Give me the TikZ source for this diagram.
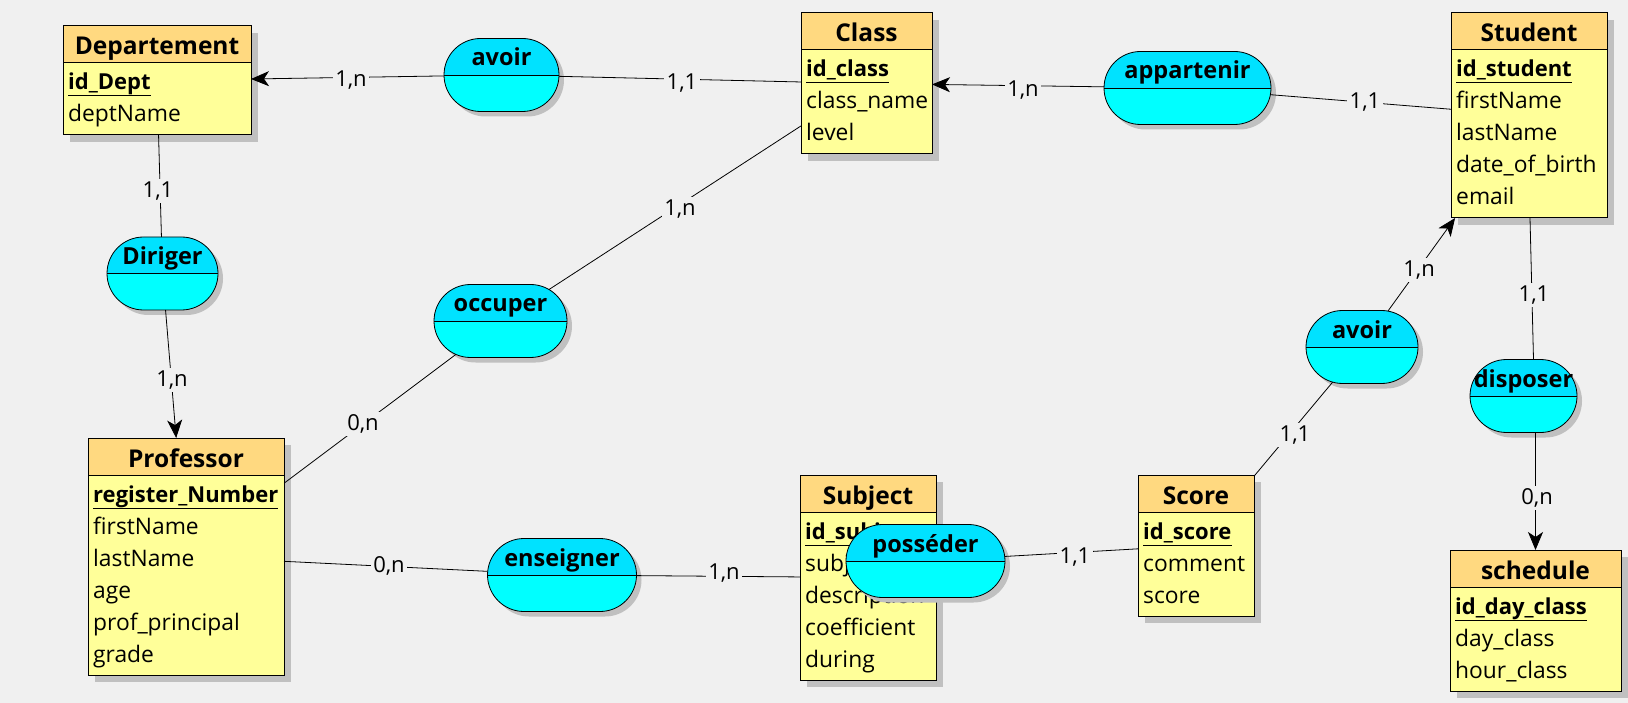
\documentclass[tikz,border=0pt]{standalone}
\usepackage{fontspec}
\setmainfont{Open Sans}
\usetikzlibrary{shapes.misc,arrows.meta,calc}
\definecolor{bg}{RGB}{240,240,240}
\definecolor{hdr}{RGB}{255,217,128}
\definecolor{bodyc}{RGB}{255,255,153}
\definecolor{shd}{RGB}{192,192,192}
\definecolor{cyanA}{RGB}{0,226,255}
\definecolor{cyanB}{RGB}{0,255,255}
\tikzset{
 conn/.style={draw=black, line width=0.8pt},
 arr/.style={conn, -{Stealth[length=18pt,width=15pt,inset=5pt]}},
 entbox/.style={rectangle, draw=none, fill=bodyc, inner sep=0pt, outer sep=0pt},
 entline/.style={draw=black, line width=1pt},
 titletext/.style={font=\fontsize{24.5}{28}\selectfont\bfseries, inner sep=0pt, anchor=base},
 attrtext/.style={font=\fontsize{22.8}{26}\selectfont, inner sep=0pt, anchor=base west},
 pktext/.style={font=\fontsize{22}{26}\selectfont\bfseries, inner sep=0pt, anchor=base west},
 assocshape/.style={rounded rectangle, draw=black, line width=0.8pt, fill=cyanB,
   minimum height=73pt, inner sep=0pt, outer sep=0pt,
   path picture={\fill[cyanA] (path picture bounding box.north west) rectangle (path picture bounding box.east);}},
 assocshadow/.style={rounded rectangle, draw=none, fill=shd, minimum height=73pt, inner sep=0pt, outer sep=0pt},
 assoctext/.style={font=\fontsize{23.5}{28}\selectfont\bfseries, inner sep=0pt, anchor=base},
 card/.style={font=\fontsize{22}{26}\selectfont, fill=bg, inner sep=2.5pt},
}
% #1 name, #2 left, #3 top, #4 width, #5 rows, #6 title
\newcommand\mkent[6]{%
 \pgfmathsetmacro\entH{45+32*#5}%
 \fill[shd] (#2+7,#3+7) rectangle ++(#4,\entH);
 \node[entbox, minimum width=#4pt, minimum height=\entH pt, anchor=north west] (#1) at (#2,#3) {};
 \fill[hdr] (#1.north west) rectangle ($(#1.north east)+(0,37)$);
 \draw[entline] ($(#1.north west)+(0,37)$) -- ($(#1.north east)+(0,37)$);
 \draw[entline] (#1.north west) rectangle (#1.south east);
 \node[titletext] (#1t) at ($(#1.north)+(0,29)$) {#6};
}
\newcommand\mkpk[3]{%
 \node[pktext] (#2) at ($(#1.north west)+(5,64)$) {#3};
 \draw[line width=1pt] ([yshift=-6pt]#2.base west) -- ([yshift=-6pt]#2.base east);
}
\newcommand\mkattr[4]{%
 \node[attrtext] (#2) at ($(#1.north west)+(5,64+32*#3)$) {#4};
}
% #1 name, #2 cx, #3 cy, #4 width, #5 text
\newcommand\mkassoc[5]{%
 \node[assocshadow, minimum width=#4pt] (#1s) at (#2+5,#3+5) {};
 \node[assocshape, minimum width=#4pt] (#1) at (#2,#3) {};
 \draw[conn] (#1.west) -- (#1.east);
 \node[assoctext] (#1t) at ($(#1.center)+(0,-9)$) {#5};
}
\begin{document}
\begin{tikzpicture}[x=1pt,y=-1pt]
\fill[bg] (0,0) rectangle (1628,703);
\useasboundingbox (0,0) rectangle (1628,703);

% entities
\mkent{dept}{63}{26}{188}{2}{Departement}
\mkpk{dept}{dept0}{id\_Dept}
\mkattr{dept}{dept1}{1}{deptName}

\mkent{cls}{801}{13}{131}{3}{Class}
\mkpk{cls}{cls0}{id\_class}
\mkattr{cls}{cls1}{1}{class\_name}
\mkattr{cls}{cls2}{2}{level}

\mkent{stu}{1451}{13}{156}{5}{Student}
\mkpk{stu}{stu0}{id\_student}
\mkattr{stu}{stu1}{1}{firstName}
\mkattr{stu}{stu2}{2}{lastName}
\mkattr{stu}{stu3}{3}{date\_of\_birth}
\mkattr{stu}{stu4}{4}{email}

\mkent{prof}{88}{438}{196}{6}{Professor}
\mkpk{prof}{prof0}{register\_Number}
\mkattr{prof}{prof1}{1}{firstName}
\mkattr{prof}{prof2}{2}{lastName}
\mkattr{prof}{prof3}{3}{age}
\mkattr{prof}{prof4}{4}{prof\_principal}
\mkattr{prof}{prof5}{5}{grade}

\mkent{subj}{800}{475}{136}{5}{Subject}
\mkpk{subj}{subj0}{id\_subject}
\mkattr{subj}{subj1}{1}{subject\_name}
\mkattr{subj}{subj2}{2}{description}
\mkattr{subj}{subj3}{3}{coefficient}
\mkattr{subj}{subj4}{4}{during}

\mkent{score}{1138}{475}{116}{3}{Score}
\mkpk{score}{score0}{id\_score}
\mkattr{score}{score1}{1}{comment}
\mkattr{score}{score2}{2}{score}

\mkent{sched}{1450}{550}{171}{3}{schedule}
\mkpk{sched}{sched0}{id\_day\_class}
\mkattr{sched}{sched1}{1}{day\_class}
\mkattr{sched}{sched2}{2}{hour\_class}

% associations
\mkassoc{avl}{501.5}{75}{115}{avoir}
\mkassoc{dir}{162.5}{273.5}{111}{Diriger}
\mkassoc{occ}{500.5}{321}{133}{occuper}
\mkassoc{ens}{562}{575}{149}{enseigner}
\mkassoc{pos}{925.5}{561}{159}{posséder}
\mkassoc{app}{1187.5}{88}{167}{appartenir}
\mkassoc{avr}{1362}{347}{112}{avoir}
\mkassoc{dis}{1523.5}{396}{107}{disposer}

% connectors
\draw[arr] (avl) -- (dept);
\draw[conn] (avl) -- (cls);
\draw[arr] (app) -- (cls);
\draw[conn] (app) -- (stu);
\draw[conn] (dept) -- (dir);
\draw[arr] (dir) -- (prof);
\draw[conn] (cls) -- (occ);
\draw[conn] (occ) -- (prof);
\draw[conn] (prof) -- (ens);
\draw[conn] (ens) -- (subj);
\draw[conn] (pos) -- (score);
\draw[conn] (score) -- (avr);
\draw[arr] (avr) -- (stu);
\draw[conn] ([xshift=1pt]stu.south) -- ([xshift=10pt]dis.north);
\draw[arr] ([xshift=12pt]dis.south) -- (sched.north);

% cardinalities
\node[card] (c1) at (351,80) {1,n};
\node[card] (c2) at (682,83) {1,1};
\node[card] (c3) at (1023,90) {1,n};
\node[card] (c4) at (1365,102) {1,1};
\node[card] (c5) at (158,191) {1,1};
\node[card] (c6) at (172,380) {1,n};
\node[card] (c7) at (680,209) {1,n};
\node[card] (c8) at (363,424) {0,n};
\node[card] (c9) at (389,566) {0,n};
\node[card] (c10) at (724,573) {1,n};
\node[card] (c11) at (1075,557) {1,1};
\node[card] (c12) at (1295,435) {1,1};
\node[card] (c13) at (1419,270) {1,n};
\node[card] (c14) at (1534,295) {1,1};
\node[card] (c15) at (1537,498) {0,n};
\end{tikzpicture}
\end{document}
